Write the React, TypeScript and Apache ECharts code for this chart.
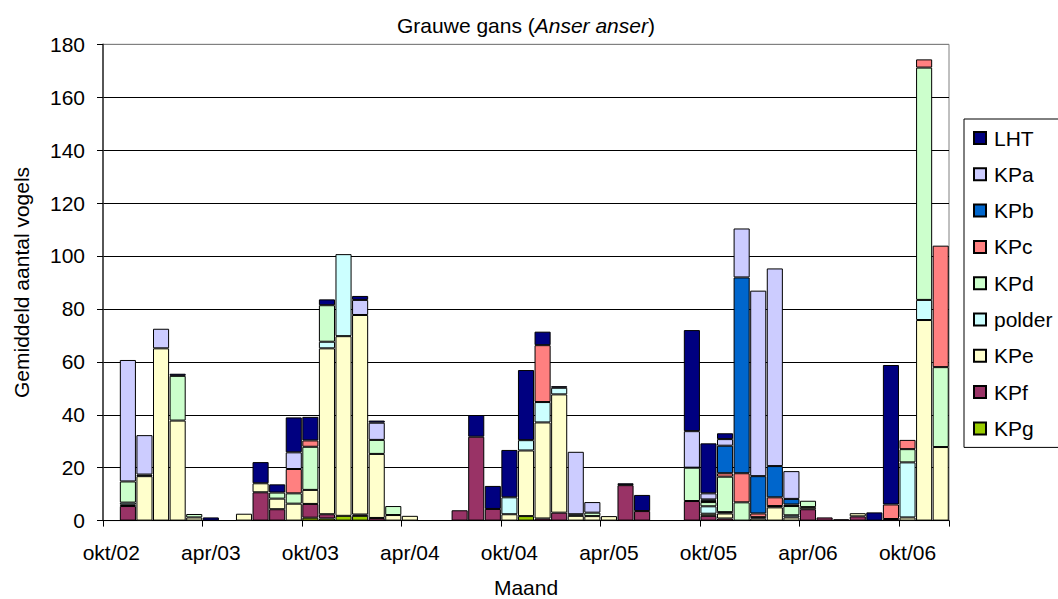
import React, { useEffect, useRef } from 'react';
import * as echarts from 'echarts';

const categories = [
  'okt/02','nov/02','dec/02','jan/03','feb/03','mrt/03','apr/03','mei/03','jun/03','jul/03','aug/03','sep/03',
  'okt/03','nov/03','dec/03','jan/04','feb/04','mrt/04','apr/04','mei/04','jun/04','jul/04','aug/04','sep/04',
  'okt/04','nov/04','dec/04','jan/05','feb/05','mrt/05','apr/05','mei/05','jun/05','jul/05','aug/05','sep/05',
  'okt/05','nov/05','dec/05','jan/06','feb/06','mrt/06','apr/06','mei/06','jun/06','jul/06','aug/06','sep/06',
  'okt/06','nov/06','dec/06',
];

const KPg = [
  0,0,0,0,0,0,0,0,0,0,0,0,
  1.1,0.8,1.8,1.8,0,0,0,0,0,0,0,0,
  0,1.7,0,0,0,0,0,0,0,0,0,0,
  0,0,0,0,0,0,0,0,0,0,0,0,
  0,0,0,
];
const KPf = [
  0,5.5,0,0,0,0,0,0,0,10.7,4.3,0,
  5.2,1.6,0,0.5,1.0,0,0,0,0,3.9,31.7,4.4,
  0,0,0.8,3.0,0,0,0,13.4,3.6,0,0,7.4,
  1.8,0.8,0,0,0,0,4.3,1.2,0.5,1.6,0,0.6,
  0,0,0,
];
const KPe = [
  0,0.5,16.8,65.1,37.8,1.2,0,0,2.6,3.4,4.0,6.4,
  5.3,62.7,67.9,75.4,24.2,2.1,1.8,0,0,0,0,0,
  2.4,24.8,36.3,44.7,1.8,1.7,1.7,0,0,0,0,0,
  0.8,1.9,0,0.8,5.0,1.2,0.8,0,0,1.2,0,0,
  1.2,75.8,27.8,
];
const polder = [
  0,0.8,0.6,0,0,0,0,0,0,0,0,0,
  0,2.5,31.0,0,0,0,0,0,0,0,0,0,
  6.4,3.9,7.7,2.5,0.6,0,0,0,0,0,0,0,
  2.8,0.5,0,0,0,0.8,0,0,0,0,0,0,
  20.8,7.6,0,
];
const KPd = [
  0,8.0,0,0,16.9,1.3,0,0,0,0,2.3,3.9,
  16.3,13.8,0,0,5.3,3.4,0,0,0,0,0,0,
  0,0,0,0,0,1.3,0,0,0,0,0,12.6,
  1.6,13.4,6.9,0.5,0.5,3.5,2.4,0,0,0,0,0,
  5.0,87.8,30.2,
];
const KPc = [
  0,0,0,0,0,0,0,0,0,0,0,9.2,
  2.4,0,0,0,0,0,0,0,0,0,0,0,
  0,0,21.5,0,0,0,0,0,0,0,0,0,
  0.5,1.3,11.0,1.4,3.3,0.6,0,0,0,0,0,5.5,
  3.5,3.1,45.9,
];
const KPb = [
  0,0,0,0,0,0,0,0,0,0,0,0,
  0,0,0,0,0,0,0,0,0,0,0,0,
  0,0,0,0,0,0,0,0,0,0,0,0,
  0.5,10.4,74.0,14.1,11.8,2.1,0,0,0,0,0,0,
  0,0,0,
];
const KPa = [
  0,45.9,14.9,7.4,0,0,0,0,0,0,0,6.3,
  0,0,0,5.7,6.5,0,0,0,0,0,0,0,
  0,0,0,0,23.6,4.0,0,0,0,0,0,13.8,
  2.3,2.5,18.5,70.1,74.7,10.5,0,0,0,0,0,0,
  0,0,0,
];
const LHT = [
  0,0,0,0,0.8,0,1.2,0,0,8.0,3.1,13.2,
  8.9,2.2,0,1.5,0.8,0,0,0,0,0,8.2,8.7,
  17.9,26.5,5.1,0.6,0,0,0,0.7,6.1,0,0,38.2,
  18.9,2.2,0,0,0,0,0,0,0,0,3.1,52.7,
  0,0,0,
];

// stacking order bottom -> top
const seriesNames = ['KPg', 'KPf', 'KPe', 'polder', 'KPd', 'KPc', 'KPb', 'KPa', 'LHT'];
const seriesValues = [KPg, KPf, KPe, polder, KPd, KPc, KPb, KPa, LHT];
const seriesColors = ['#99CC00', '#993366', '#FFFFCC', '#CCFFFF', '#CCFFCC', '#FF8080', '#0066CC', '#CCCCFF', '#000080'];
const legendOrder = ['LHT', 'KPa', 'KPb', 'KPc', 'KPd', 'polder', 'KPe', 'KPf', 'KPg'];

const yTicks = [0, 20, 40, 60, 80, 100, 120, 140, 160, 180];

const FONT = "'Liberation Sans', Arial, sans-serif";
const FS = 21;

export default function App() {
  const ref = useRef<HTMLDivElement>(null);
  useEffect(() => {
    if (!ref.current) return;
    const chart = echarts.init(ref.current, null, { renderer: 'svg' });
    const gridColors = yTicks.map((v) => (v === 180 ? '#808080' : '#000000'));
    chart.setOption({
      animation: false,
      backgroundColor: '#ffffff',
      textStyle: { fontFamily: FONT },
      title: {
        text: 'Grauwe gans ({i|Anser anser})',
        left: 526,
        top: 15,
        padding: 0,
        textAlign: 'center',
        textStyle: {
          fontFamily: FONT,
          fontSize: FS,
          fontWeight: 'normal',
          color: '#000',
          rich: { i: { fontFamily: FONT, fontSize: FS, fontStyle: 'italic', color: '#000' } },
        },
      },
      legend: {
        orient: 'vertical',
        left: 964,
        top: 119,
        padding: [8, 10, 8, 9],
        itemGap: 14.3,
        itemWidth: 12,
        itemHeight: 12,
        icon: 'rect',
        borderColor: '#000',
        borderWidth: 1,
        data: legendOrder,
        textStyle: { fontFamily: FONT, fontSize: FS, lineHeight: 22, color: '#000', padding: [0, 0, 0, 3] },
      },
      grid: {
        left: 103,
        right: 109,
        top: 44.3,
        bottom: 78.4,
        show: true,
        borderColor: '#808080',
        borderWidth: 1,
        containLabel: false,
        outerBoundsMode: 'none',
      },
      xAxis: {
        type: 'category',
        data: categories,
        boundaryGap: true,
        name: 'Maand',
        nameLocation: 'middle',
        nameGap: 56,
        nameTextStyle: { fontFamily: FONT, fontSize: FS, color: '#000' },
        axisLine: { show: true, lineStyle: { color: '#000', width: 1 } },
        axisTick: { show: true, interval: 5, length: 6, inside: false, lineStyle: { color: '#000' } },
        axisLabel: { interval: 5, margin: 21, fontFamily: FONT, fontSize: FS, color: '#000' },
        splitLine: { show: false },
      },
      yAxis: {
        type: 'value',
        min: 0,
        max: 180,
        interval: 20,
        name: 'Gemiddeld aantal vogels',
        nameLocation: 'middle',
        nameGap: 71,
        nameTextStyle: { fontFamily: FONT, fontSize: FS, color: '#000' },
        axisLine: { show: true, lineStyle: { color: '#333', width: 1.5 } },
        axisTick: { show: true, length: 6, inside: false, lineStyle: { color: '#000' } },
        axisLabel: { margin: 18, fontFamily: FONT, fontSize: FS, color: '#000' },
        splitLine: { show: true, lineStyle: { color: gridColors, width: 1 } },
      },
      series: seriesNames.map((name, i) => ({
        name,
        type: 'bar',
        stack: 'total',
        barCategoryGap: '3%',
        itemStyle: { color: seriesColors[i], borderColor: '#000', borderWidth: 1 },
        emphasis: { disabled: true },
        data: seriesValues[i].map((v) => (v === 0 ? null : v)),
      })),
    });
    return () => chart.dispose();
  }, []);
  return <div ref={ref} style={{ position: 'fixed', left: 0, top: 0, width: 1058, height: 599, background: '#fff' }} />;
}
